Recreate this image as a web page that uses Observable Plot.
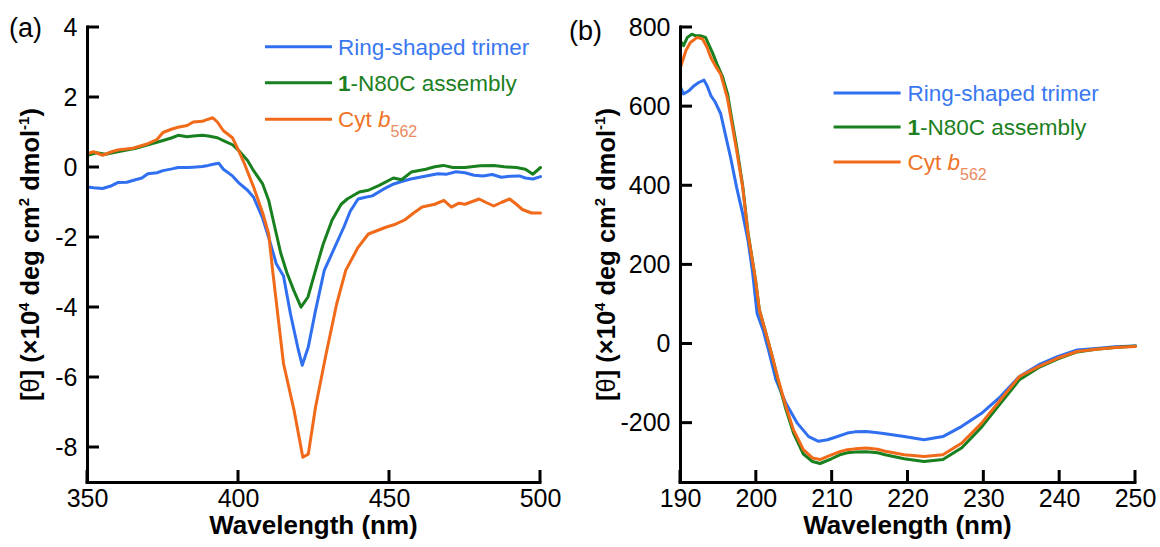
<!DOCTYPE html>
<html><head><meta charset="utf-8">
<script src="https://cdn.jsdelivr.net/npm/d3@7"></script>
<script src="https://cdn.jsdelivr.net/npm/@observablehq/plot@0.6"></script>
<style>
body{margin:0;background:#fff;}
#wrap{position:relative;width:1160px;height:547px;overflow:hidden;}
#wrap svg{position:absolute;top:0;overflow:visible;}
</style></head><body><div id="wrap"></div>
<script>
// ---------- Panel (a): 350–500 nm ----------
const aRingWl = [350,352,355,358,360,363,365,368,370,373,375,378,380,383,385,388,390,392,393.5,395,398,400,403,405,408,410,412.5,414.9,417.2,419.6,421.1,423.1,425.5,428.4,431.4,434.9,437,439.6,442,444.3,448,451.4,454,457,460,463,466,469,472,475,478,481,484,487,490,493,495,497.5,500];
const aRingVal = [-0.56,-0.58,-0.60,-0.52,-0.43,-0.42,-0.37,-0.30,-0.18,-0.15,-0.09,-0.04,0.0,0.0,0.01,0.03,0.06,0.10,0.12,-0.05,-0.24,-0.43,-0.65,-0.85,-1.45,-2.0,-2.75,-3.1,-4.18,-5.13,-5.65,-5.13,-4.09,-2.94,-2.37,-1.7,-1.25,-0.9,-0.85,-0.81,-0.62,-0.47,-0.40,-0.33,-0.28,-0.23,-0.18,-0.19,-0.12,-0.15,-0.22,-0.24,-0.20,-0.28,-0.25,-0.24,-0.30,-0.33,-0.26];

const aAsmWl = [350,353,356,360,363,366,370,373,375,378,380,383,385,388,390,393,395,398,400,403,405,408,410,412,414,416,418.3,420.7,423,425.5,428,431,434,436,440,443,446.6,451.3,454,457.2,462,465,467.8,471,475,480,484.5,488,492,495,497.5,500];
const aAsmVal = [0.35,0.42,0.38,0.45,0.50,0.55,0.65,0.72,0.77,0.85,0.92,0.88,0.90,0.92,0.90,0.85,0.77,0.65,0.49,0.20,-0.09,-0.47,-0.94,-1.7,-2.45,-3.0,-3.51,-3.99,-3.7,-2.94,-2.2,-1.5,-1.05,-0.9,-0.7,-0.65,-0.51,-0.30,-0.35,-0.13,-0.05,0.02,0.06,0.0,0.0,0.05,0.06,0.02,0.0,-0.05,-0.19,0.0];

const aCytWl = [350,352,355,358,360,365,370,373,375,378,380,383,385,388,390,391.5,393,395,398,400,402,405,408,410,411.3,414.9,418.4,421.3,423.1,425.5,429,432.5,435.5,439.6,443,446,449,452,455,458,460.8,465,468,470.5,473,475,479.7,482,484.5,487,489.8,492,494,497,500];
const aCytVal = [0.40,0.45,0.35,0.45,0.50,0.55,0.68,0.80,1.00,1.10,1.15,1.20,1.30,1.32,1.38,1.42,1.30,1.05,0.85,0.49,0.10,-0.56,-1.30,-1.90,-2.94,-5.6,-6.94,-8.28,-8.19,-6.85,-5.33,-3.9,-2.94,-2.28,-1.90,-1.80,-1.70,-1.62,-1.50,-1.30,-1.13,-1.05,-0.94,-1.13,-1.02,-1.05,-0.90,-1.0,-1.10,-1.0,-0.90,-1.05,-1.20,-1.30,-1.30];

const aXTicks = [350,400,450,500];
const aYTicks = [4,2,0,-2,-4,-6,-8];
const aXDomain = [350,500];
const aYDomain = [-9,4];

// ---------- Panel (b): 190–250 nm ----------
const bRingWl = [190,190.4,191.1,191.8,192.4,193.1,193.5,194,194.6,195.3,195.7,196.1,196.6,197.4,198.2,198.9,199.5,200.1,200.9,201.6,202.6,203.9,205.4,206.9,208.2,209.4,210.5,212,213,214.5,216,217,219.5,222.1,224.6,227.1,229.7,232.2,234.7,237.2,239.7,242.3,244.8,247.3,250];
const bRingVal = [649,632,640,653,661,667,653,628,611,582,548,514,472,396,329,262,182,77,35,-15,-91,-150,-200,-234,-246,-242,-235,-225,-222,-221,-224,-227,-234,-242,-234,-208,-175,-133,-82,-53,-32,-15,-11,-7,-5];

const bAsmWl = [190,190.4,190.9,191.5,192,192.6,193.3,193.7,194.2,194.8,195.5,196.2,196.8,197.4,198.2,198.9,199.9,200.4,201.4,202.1,202.9,203.9,204.9,206.2,207.4,208.4,209.9,211,212,213,214.5,216,217,219.5,222.1,224.6,227.1,229.7,232.2,234.7,237.2,239.7,242.3,244.8,247.3,250];
const bAsmVal = [766,754,775,783,779,779,775,758,737,708,678,633,565,500,400,282,161,86,18,-32,-95,-165,-225,-278,-297,-302,-290,-280,-275,-273,-272,-275,-280,-290,-297,-292,-262,-210,-150,-90,-60,-38,-20,-13,-9,-5];

const bCytWl = [190,190.7,191.3,192.2,192.9,193.5,194,194.6,195.3,196.2,196.8,197.4,198.2,198.9,199.9,200.4,201.4,202.1,202.9,203.9,204.9,206.2,207.4,208.4,209.9,211,212,213,214.5,216,217,219.5,222.1,224.6,227.1,229.7,232.2,234.7,237.2,239.7,242.3,244.8,247.3,250];
const bCytVal = [699,741,762,775,771,750,724,703,682,620,555,490,396,279,161,86,18,-32,-91,-158,-217,-267,-288,-292,-280,-272,-267,-265,-263,-266,-271,-280,-284,-280,-250,-200,-141,-82,-57,-36,-19,-13,-9,-6];

const bXTicks = [190,200,210,220,230,240,250];
const bYTicks = [800,600,400,200,0,-200];
const bXDomain = [190,250];
const bYDomain = [-350,800];

// ---------- Series / text ----------
const seriesNames = ["Ring-shaped trimer","1-N80C assembly","Cyt b562"];
const lineColors = ["#2f6ff0","#18801e","#f06a1a"];
const textColors = ["#3a78f2","#1c7f22","#ef7428"];
const subColor = "#e98a60";
const xTitle = "Wavelength (nm)";
const panelLabels = ["(a)","(b)"];

const FONT = "'Liberation Sans', Arial, Helvetica, sans-serif";
const TICK_PX = 12;

function rows(xs, ys){ return xs.map((x,i)=>({x, y: ys[i]})); }

function makePanel(cfg){
  const H = 547, mT = 27, mB = 65;
  const x0 = cfg.xDomain[0], y0 = cfg.yDomain[0];
  const plot = Plot.plot({
    width: cfg.width, height: H,
    marginLeft: cfg.marginLeft, marginRight: cfg.marginRight, marginTop: mT, marginBottom: mB,
    x: {domain: cfg.xDomain},
    y: {domain: cfg.yDomain},
    style: {fontFamily: FONT, fontSize: "25px", color: "#000", background: "transparent", overflow: "visible"},
    marks: [
      Plot.line(rows(cfg.series[0][0], cfg.series[0][1]), {x: "x", y: "y", stroke: lineColors[0], strokeWidth: 3, strokeLinejoin: "round"}),
      Plot.line(rows(cfg.series[1][0], cfg.series[1][1]), {x: "x", y: "y", stroke: lineColors[1], strokeWidth: 3, strokeLinejoin: "round"}),
      Plot.line(rows(cfg.series[2][0], cfg.series[2][1]), {x: "x", y: "y", stroke: lineColors[2], strokeWidth: 3, strokeLinejoin: "round"}),
      Plot.axisX(cfg.xTicks, {tickSize: 0, tickPadding: 7, fontSize: 25, label: null, tickFormat: d => String(d)}),
      Plot.axisY(cfg.yTicks, {tickSize: 0, tickPadding: 10, fontSize: 25, label: null, tickFormat: d => String(d)}),
      Plot.ruleX([x0], {y1: y0, y2: cfg.yDomain[1], stroke: "#000", strokeWidth: 3, strokeLinecap: "square"}),
      Plot.ruleY([y0], {x1: x0, x2: cfg.xDomain[1], stroke: "#000", strokeWidth: 3, strokeLinecap: "square"})
    ]
  });
  plot.style.left = cfg.left + "px";
  document.getElementById("wrap").appendChild(plot);

  const svg = d3.select(plot);
  const xs = plot.scale("x"), ys = plot.scale("y");
  const px0 = xs.apply(x0), py0 = ys.apply(y0);
  const cx = (xs.apply(cfg.xDomain[0]) + xs.apply(cfg.xDomain[1])) / 2;
  const cy = (ys.apply(cfg.yDomain[0]) + ys.apply(cfg.yDomain[1])) / 2;

  // inward tick marks, positioned with Plot's own scales
  const tg = svg.append("g").attr("stroke", "#000").attr("stroke-width", 3);
  cfg.xTicks.forEach(v => {
    const px = xs.apply(v);
    tg.append("line").attr("x1", px).attr("x2", px).attr("y1", py0).attr("y2", py0 - TICK_PX);
  });
  cfg.yTicks.forEach(v => {
    const py = ys.apply(v);
    tg.append("line").attr("x1", px0).attr("x2", px0 + TICK_PX).attr("y1", py).attr("y2", py);
  });

  // panel label
  svg.append("text").attr("x", cfg.labelX).attr("y", cfg.labelY).attr("text-anchor", "start")
    .attr("font-family", FONT).attr("font-size", 27).attr("fill", "#000").text(cfg.label);

  // x title
  svg.append("text").attr("x", cx).attr("y", 533.5).attr("text-anchor", "middle")
    .attr("font-family", FONT).attr("font-size", 26).attr("font-weight", "bold").attr("fill", "#000").text(xTitle);

  // y title
  const t = svg.append("text").attr("transform", `translate(${cfg.yTitleX},${cy}) rotate(-90)`)
    .attr("text-anchor", "middle").attr("font-family", FONT).attr("font-size", 25.5)
    .attr("font-weight", "bold").attr("fill", "#000");
  t.append("tspan").text("[");
  t.append("tspan").attr("font-weight", "normal").text("θ");
  t.append("tspan").text("] (×10");
  t.append("tspan").attr("font-size", 15).attr("dy", -10).text("4");
  t.append("tspan").attr("dy", 10).text(" deg cm");
  t.append("tspan").attr("font-size", 15).attr("dy", -10).text("2");
  t.append("tspan").attr("dy", 10).text(" dmol");
  t.append("tspan").attr("font-size", 15).attr("dy", -10).text("-1");
  t.append("tspan").attr("dy", 10).text(")");

  // legend
  const L = cfg.legend;
  L.ys.forEach((ly, i) => {
    svg.append("line").attr("x1", L.x1).attr("x2", L.x2).attr("y1", ly).attr("y2", ly)
      .attr("stroke", lineColors[i]).attr("stroke-width", 3);
    const tx = svg.append("text").attr("x", L.tx).attr("y", ly + 8).attr("text-anchor", "start")
      .attr("font-family", FONT).attr("font-size", 22.5).attr("fill", textColors[i]);
    if (i === 0) tx.text(seriesNames[0]);
    else if (i === 1) {
      tx.append("tspan").attr("font-weight", "bold").text("1");
      tx.append("tspan").text("-N80C assembly");
    } else {
      tx.append("tspan").text("Cyt ");
      tx.append("tspan").attr("font-style", "italic").text("b");
      tx.append("tspan").attr("font-size", 16).attr("dy", 10).attr("fill", subColor).text("562");
    }
  });
}

makePanel({
  left: 0, width: 560, marginLeft: 87, marginRight: 20,
  xDomain: aXDomain, yDomain: aYDomain, xTicks: aXTicks, yTicks: aYTicks,
  series: [[aRingWl, aRingVal], [aAsmWl, aAsmVal], [aCytWl, aCytVal]],
  label: panelLabels[0], labelX: 9, labelY: 37, yTitleX: 39,
  legend: {x1: 265, x2: 332, tx: 338, ys: [46.7, 82.7, 119.3]}
});

makePanel({
  left: 560, width: 600, marginLeft: 120, marginRight: 25,
  xDomain: bXDomain, yDomain: bYDomain, xTicks: bXTicks, yTicks: bYTicks,
  series: [[bRingWl, bRingVal], [bAsmWl, bAsmVal], [bCytWl, bCytVal]],
  label: panelLabels[1], labelX: 9, labelY: 40, yTitleX: 55,
  legend: {x1: 273.6, x2: 340.6, tx: 347.5, ys: [93, 127, 162]}
});
</script>
</body></html>
